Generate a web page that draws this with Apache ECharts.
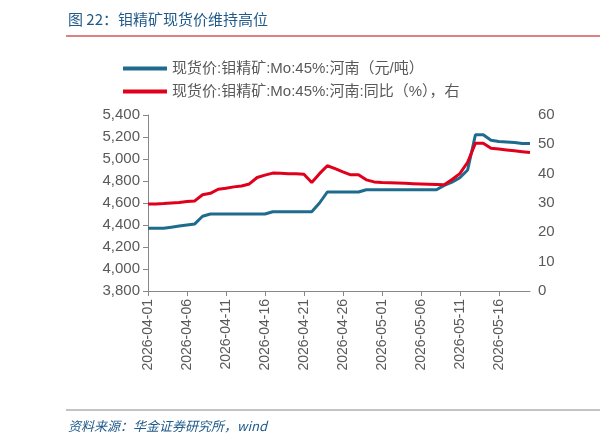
<!DOCTYPE html><html><head><meta charset="utf-8"><script src="https://cdn.jsdelivr.net/npm/echarts@6/dist/echarts.min.js"></script></head><body style="margin:0"><div id="c" style="width:612px;height:448px"></div><script>
var dates=[];(function(){var d=new Date(Date.UTC(2026,3,1));for(var i=0;i<50;i++){dates.push(d.toISOString().slice(0,10));d.setUTCDate(d.getUTCDate()+1);}})();
var priceS=[4370,4370,4370,4380,4390,4400,4410,4480,4500,4500,4500,4500,4500,4500,4500,4500,4520,4520,4520,4520,4520,4520,4600,4700,4700,4700,4700,4700,4720,4720,4720,4720,4720,4720,4720,4720,4720,4720,4760,4790,4830,4900,5220,5220,5170,5160,5155,5150,5140,5140];
var yoyS=[29.7,29.7,29.8,30.0,30.2,30.5,30.7,32.8,33.3,34.7,35.0,35.5,35.8,36.5,38.7,39.5,40.2,40.1,40.0,40.0,39.8,37.0,40.0,42.7,41.7,40.6,39.6,39.6,37.9,37.2,37.0,36.9,36.8,36.7,36.6,36.5,36.4,36.3,36.2,38.0,40.0,43.9,50.4,50.4,48.7,48.4,48.1,47.8,47.5,47.2];
var c=echarts.init(document.getElementById('c'));
var f='"Liberation Sans",Arial,sans-serif';
c.setOption({animation:false,textStyle:{fontFamily:f},
graphic:[{type:'text',left:68,top:12,style:{text:'图 22：钼精矿现货价维持高位',fill:'#1f5a8a',font:'15px "Noto Sans CJK SC"'}},
{type:'line',shape:{x1:66,y1:36,x2:600,y2:36},style:{stroke:'#c00000',lineWidth:1}},
{type:'line',shape:{x1:66,y1:410,x2:600,y2:410},style:{stroke:'#888',lineWidth:1}},
{type:'text',left:68,top:420,style:{text:'资料来源：华金证券研究所，wind',fill:'#1f5a8a',font:'italic 13px "Noto Sans CJK SC"'}}],
legend:{left:118,top:56,orient:'vertical',itemGap:8,itemWidth:44,itemHeight:4,icon:'rect',textStyle:{fontSize:15,color:'#595959',fontFamily:f+',"Noto Sans CJK SC"'},data:['现货价:钼精矿:Mo:45%:河南（元/吨）','现货价:钼精矿:Mo:45%:河南:同比（%），右']},
grid:{left:148,right:82,top:115,bottom:157},
xAxis:{type:'category',data:dates,boundaryGap:false,axisTick:{show:true,interval:4,alignWithLabel:true,inside:false},axisLine:{lineStyle:{color:'#888'}},axisLabel:{interval:4,rotate:90,fontSize:14,color:'#595959'}},
yAxis:[{type:'value',min:3800,max:5400,interval:200,splitLine:{show:false},axisLine:{show:true,lineStyle:{color:'#888'}},axisTick:{show:true},axisLabel:{fontSize:15,color:'#595959',formatter:function(v){return v.toLocaleString('en-US')}}},
{type:'value',min:0,max:60,interval:10,splitLine:{show:false},axisLine:{show:false},axisLabel:{fontSize:15,color:'#595959'}}],
series:[{name:'现货价:钼精矿:Mo:45%:河南（元/吨）',type:'line',data:priceS,symbol:'none',lineStyle:{width:3,color:'#1f6b8e'},itemStyle:{color:'#1f6b8e'}},
{name:'现货价:钼精矿:Mo:45%:河南:同比（%），右',type:'line',yAxisIndex:1,data:yoyS,symbol:'none',lineStyle:{width:3,color:'#e0001b'},itemStyle:{color:'#e0001b'}}]});
</script></body></html>
